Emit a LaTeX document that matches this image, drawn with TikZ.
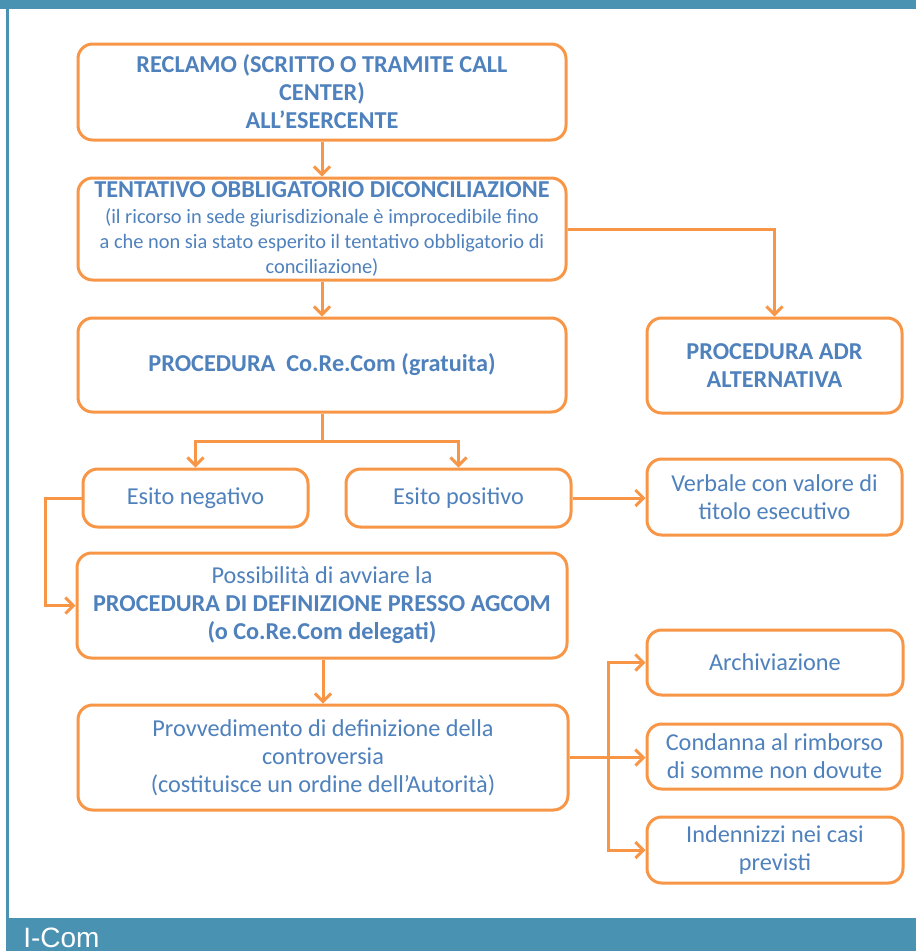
\documentclass[tikz,border=0pt]{standalone}
\usepackage{fontspec}
\setmainfont{Carlito}
\newfontfamily\arialf{Liberation Sans}
\usetikzlibrary{arrows.meta}
\definecolor{orng}{HTML}{F79646}
\definecolor{txtb}{HTML}{4F81BD}
\definecolor{tealb}{HTML}{4A92B2}
\newcommand{\smf}{\fontsize{15.3}{18.5}\selectfont}
\newcommand{\bgf}{\fontsize{18.2}{21}\selectfont}
\begin{document}
\begin{tikzpicture}[x=0.75pt,y=-0.75pt,
 box/.style={draw=orng, line width=2.25pt, rounded corners=11pt, fill=white, inner sep=0pt, align=center, text=txtb, font=\bgf},
 conn/.style={draw=orng, line width=2.25pt, -{Straight Barb[length=6pt,width=12pt]}},
 plain/.style={draw=orng, line width=2.25pt}
]
\useasboundingbox (0,0) rectangle (916,951);
\fill[tealb] (0,0) rectangle (916,8.5);
\fill[tealb] (6,8.5) rectangle (9,918);
\fill[tealb] (6,918) rectangle (916,951);
\node[anchor=base west, inner sep=0pt, text=white, font=\arialf\fontsize{21}{21}\selectfont] (ic) at (23,947) {I-Com};

\node[box, minimum width=366pt, minimum height=72pt] (rec) at (322,92) {\textbf{RECLAMO (SCRITTO O TRAMITE CALL}\\\textbf{CENTER)}\\\textbf{ALL’ESERCENTE}};
\node[box, minimum width=366pt, minimum height=76.5pt, font=\smf] (ten) at (322,229) {{\bgf\bfseries TENTATIVO OBBLIGATORIO DICONCILIAZIONE}\\[1pt](il ricorso in sede giurisdizionale è improcedibile fino\\a che non sia stato esperito il tentativo obbligatorio di\\conciliazione)};
\node[box, minimum width=366pt, minimum height=70.5pt] (pro) at (322,365) {\textbf{PROCEDURA\ \ Co.Re.Com (gratuita)}};
\node[box, minimum width=191.25pt, minimum height=71.25pt] (adr) at (774.5,365.5) {\textbf{PROCEDURA ADR}\\\textbf{ALTERNATIVA}};
\node[box, minimum width=168.75pt, minimum height=43.5pt] (neg) at (195.5,498) {Esito negativo};
\node[box, minimum width=168.75pt, minimum height=43.5pt] (pos) at (458.5,498) {Esito positivo};
\node[box, minimum width=191.25pt, minimum height=57pt] (ver) at (774.5,497) {Verbale con valore di\\titolo esecutivo};
\node[box, minimum width=367.5pt, minimum height=78.75pt] (pos2) at (322,605.5) {Possibilità di avviare la\\\textbf{PROCEDURA DI DEFINIZIONE PRESSO AGCOM}\\\textbf{(o Co.Re.Com delegati)}};
\node[box, minimum width=367.5pt, minimum height=78.75pt] (prv) at (323,757.5) {Provvedimento di definizione della\\controversia\\(costituisce un ordine dell’Autorità)};
\node[box, minimum width=192pt, minimum height=48.75pt] (arc) at (775,662.5) {Archiviazione};
\node[box, minimum width=191.25pt, minimum height=48.75pt] (con) at (774.5,756.5) {Condanna al rimborso\\di somme non dovute};
\node[box, minimum width=192pt, minimum height=49.5pt] (ind) at (775,850) {Indennizzi nei casi\\previsti};

\coordinate (pj) at (322,441);
\coordinate (nl) at (45,498);
\coordinate (bj) at (608,757.5);

\draw[conn] (rec.south) -- (ten.north);
\draw[conn] (ten.south) -- (pro.north);
\draw[conn] (ten.east) -| (adr.north);
\draw[plain] (pro.south) -- (pj);
\draw[conn] (pj) -| (neg.north);
\draw[conn] (pj) -| (pos.north);
\draw[conn] (pos.east) -- (pos.east -| ver.west);
\draw[conn] (neg.west) -- (nl) |- (pos2.west);
\draw[conn] (pos2.south -| prv.north) -- (prv.north);
\draw[conn] (prv.east) -- (prv.east -| con.west);
\draw[conn] (bj) |- (arc.west);
\draw[conn] (bj) |- (ind.west);
\end{tikzpicture}
\end{document}
